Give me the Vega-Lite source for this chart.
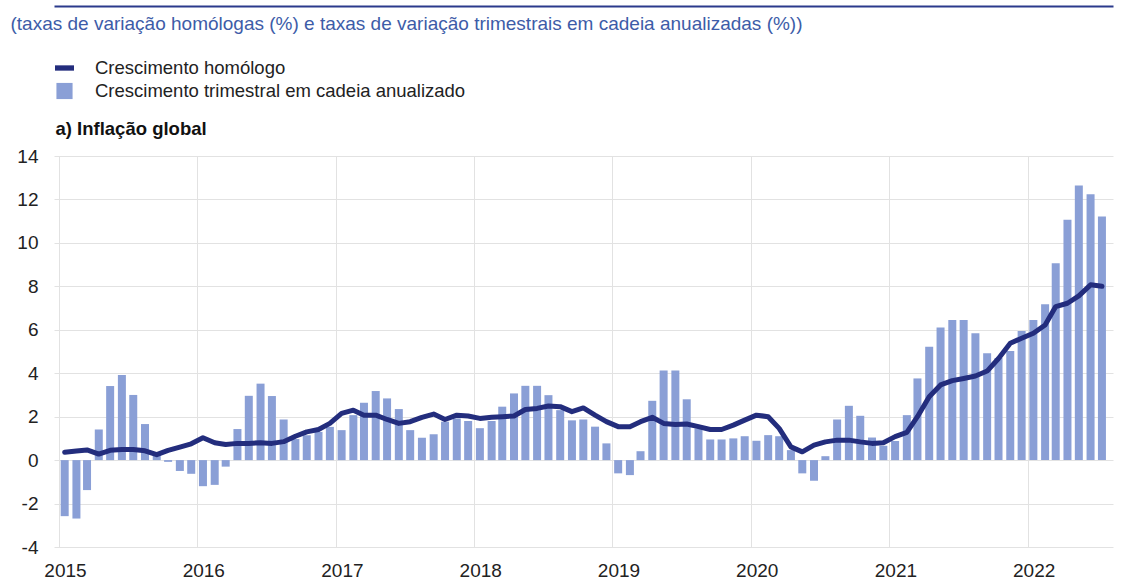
{
  "$schema": "https://vega.github.io/schema/vega-lite/v6.json",
  "width": 1059,
  "height": 391,
  "autosize": {"type": "none"},
  "padding": {"left": 54, "top": 156, "right": 13, "bottom": 32},
  "background": "white",
  "config": {"view": {"stroke": null}, "font": "Liberation Sans"},
  "data": {"values": [
    {"data": "2015-01-16", "trimestral": -2.58, "homologo": 0.36},
    {"data": "2015-02-16", "trimestral": -2.69, "homologo": 0.42},
    {"data": "2015-03-16", "trimestral": -1.38, "homologo": 0.47},
    {"data": "2015-04-16", "trimestral": 1.41, "homologo": 0.28},
    {"data": "2015-05-16", "trimestral": 3.41, "homologo": 0.45},
    {"data": "2015-06-16", "trimestral": 3.92, "homologo": 0.49},
    {"data": "2015-07-16", "trimestral": 3.0, "homologo": 0.49},
    {"data": "2015-08-16", "trimestral": 1.66, "homologo": 0.43},
    {"data": "2015-09-16", "trimestral": 0.28, "homologo": 0.25},
    {"data": "2015-10-16", "trimestral": -0.08, "homologo": 0.45},
    {"data": "2015-11-16", "trimestral": -0.5, "homologo": 0.6},
    {"data": "2015-12-16", "trimestral": -0.63, "homologo": 0.75},
    {"data": "2016-01-16", "trimestral": -1.2, "homologo": 1.03},
    {"data": "2016-02-16", "trimestral": -1.14, "homologo": 0.8},
    {"data": "2016-03-16", "trimestral": -0.3, "homologo": 0.72},
    {"data": "2016-04-16", "trimestral": 1.43, "homologo": 0.77},
    {"data": "2016-05-16", "trimestral": 2.96, "homologo": 0.77},
    {"data": "2016-06-16", "trimestral": 3.52, "homologo": 0.8},
    {"data": "2016-07-16", "trimestral": 2.95, "homologo": 0.77},
    {"data": "2016-08-16", "trimestral": 1.87, "homologo": 0.85},
    {"data": "2016-09-16", "trimestral": 0.97, "homologo": 1.1},
    {"data": "2016-10-16", "trimestral": 1.15, "homologo": 1.3},
    {"data": "2016-11-16", "trimestral": 1.3, "homologo": 1.41},
    {"data": "2016-12-16", "trimestral": 1.53, "homologo": 1.69},
    {"data": "2017-01-16", "trimestral": 1.38, "homologo": 2.15},
    {"data": "2017-02-16", "trimestral": 2.07, "homologo": 2.3},
    {"data": "2017-03-16", "trimestral": 2.64, "homologo": 2.07},
    {"data": "2017-04-16", "trimestral": 3.18, "homologo": 2.07},
    {"data": "2017-05-16", "trimestral": 2.84, "homologo": 1.87},
    {"data": "2017-06-16", "trimestral": 2.35, "homologo": 1.69},
    {"data": "2017-07-16", "trimestral": 1.38, "homologo": 1.77},
    {"data": "2017-08-16", "trimestral": 1.03, "homologo": 1.97},
    {"data": "2017-09-16", "trimestral": 1.19, "homologo": 2.12},
    {"data": "2017-10-16", "trimestral": 1.77, "homologo": 1.87},
    {"data": "2017-11-16", "trimestral": 1.92, "homologo": 2.07},
    {"data": "2017-12-16", "trimestral": 1.8, "homologo": 2.03},
    {"data": "2018-01-16", "trimestral": 1.47, "homologo": 1.92},
    {"data": "2018-02-16", "trimestral": 1.8, "homologo": 1.97},
    {"data": "2018-03-16", "trimestral": 2.46, "homologo": 2.0},
    {"data": "2018-04-16", "trimestral": 3.07, "homologo": 2.03},
    {"data": "2018-05-16", "trimestral": 3.42, "homologo": 2.33},
    {"data": "2018-06-16", "trimestral": 3.42, "homologo": 2.38},
    {"data": "2018-07-16", "trimestral": 2.99, "homologo": 2.49},
    {"data": "2018-08-16", "trimestral": 2.3, "homologo": 2.46},
    {"data": "2018-09-16", "trimestral": 1.83, "homologo": 2.23},
    {"data": "2018-10-16", "trimestral": 1.87, "homologo": 2.4},
    {"data": "2018-11-16", "trimestral": 1.54, "homologo": 2.07},
    {"data": "2018-12-16", "trimestral": 0.77, "homologo": 1.77},
    {"data": "2019-01-16", "trimestral": -0.61, "homologo": 1.54},
    {"data": "2019-02-16", "trimestral": -0.69, "homologo": 1.54},
    {"data": "2019-03-16", "trimestral": 0.41, "homologo": 1.77},
    {"data": "2019-04-16", "trimestral": 2.73, "homologo": 1.97},
    {"data": "2019-05-16", "trimestral": 4.12, "homologo": 1.69},
    {"data": "2019-06-16", "trimestral": 4.12, "homologo": 1.64},
    {"data": "2019-07-16", "trimestral": 2.8, "homologo": 1.66},
    {"data": "2019-08-16", "trimestral": 1.46, "homologo": 1.54},
    {"data": "2019-09-16", "trimestral": 0.95, "homologo": 1.41},
    {"data": "2019-10-16", "trimestral": 0.95, "homologo": 1.41},
    {"data": "2019-11-16", "trimestral": 1.0, "homologo": 1.61},
    {"data": "2019-12-16", "trimestral": 1.1, "homologo": 1.84},
    {"data": "2020-01-16", "trimestral": 0.89, "homologo": 2.07},
    {"data": "2020-02-16", "trimestral": 1.15, "homologo": 2.0},
    {"data": "2020-03-16", "trimestral": 1.1, "homologo": 1.46},
    {"data": "2020-04-16", "trimestral": 0.46, "homologo": 0.61},
    {"data": "2020-05-16", "trimestral": -0.61, "homologo": 0.38},
    {"data": "2020-06-16", "trimestral": -0.95, "homologo": 0.69},
    {"data": "2020-07-16", "trimestral": 0.18, "homologo": 0.84},
    {"data": "2020-08-16", "trimestral": 1.87, "homologo": 0.92},
    {"data": "2020-09-16", "trimestral": 2.5, "homologo": 0.92},
    {"data": "2020-10-16", "trimestral": 2.04, "homologo": 0.84},
    {"data": "2020-11-16", "trimestral": 1.04, "homologo": 0.77},
    {"data": "2020-12-16", "trimestral": 0.66, "homologo": 0.8},
    {"data": "2021-01-16", "trimestral": 0.88, "homologo": 1.08},
    {"data": "2021-02-16", "trimestral": 2.07, "homologo": 1.28},
    {"data": "2021-03-16", "trimestral": 3.76, "homologo": 2.0},
    {"data": "2021-04-16", "trimestral": 5.22, "homologo": 2.92},
    {"data": "2021-05-16", "trimestral": 6.11, "homologo": 3.46},
    {"data": "2021-06-16", "trimestral": 6.45, "homologo": 3.66},
    {"data": "2021-07-16", "trimestral": 6.45, "homologo": 3.76},
    {"data": "2021-08-16", "trimestral": 5.84, "homologo": 3.87},
    {"data": "2021-09-16", "trimestral": 4.92, "homologo": 4.1},
    {"data": "2021-10-16", "trimestral": 4.7, "homologo": 4.68},
    {"data": "2021-11-16", "trimestral": 5.02, "homologo": 5.38},
    {"data": "2021-12-16", "trimestral": 5.94, "homologo": 5.61},
    {"data": "2022-01-16", "trimestral": 6.45, "homologo": 5.84},
    {"data": "2022-02-16", "trimestral": 7.17, "homologo": 6.22},
    {"data": "2022-03-16", "trimestral": 9.06, "homologo": 7.07},
    {"data": "2022-04-16", "trimestral": 11.06, "homologo": 7.22},
    {"data": "2022-05-16", "trimestral": 12.64, "homologo": 7.56},
    {"data": "2022-06-16", "trimestral": 12.24, "homologo": 8.07},
    {"data": "2022-07-16", "trimestral": 11.21, "homologo": 8.0}
  ]},
  "layer": [
    {
      "mark": {"type": "bar", "width": 8},
      "encoding": {
        "x": {
          "field": "data", "type": "temporal",
          "scale": {"type": "utc", "domain": [{"year": 2015, "month": 1, "date": 1, "utc": true}, {"year": 2022, "month": 8, "date": 1, "utc": true}]},
          "axis": {
            "orient": "bottom",
            "values": [
              {"year": 2015, "month": 1, "date": 1, "utc": true},
              {"year": 2016, "month": 1, "date": 1, "utc": true},
              {"year": 2017, "month": 1, "date": 1, "utc": true},
              {"year": 2018, "month": 1, "date": 1, "utc": true},
              {"year": 2019, "month": 1, "date": 1, "utc": true},
              {"year": 2020, "month": 1, "date": 1, "utc": true},
              {"year": 2021, "month": 1, "date": 1, "utc": true},
              {"year": 2022, "month": 1, "date": 1, "utc": true}
            ],
            "format": "%Y",
            "labelOffset": 6,
            "labelFlush": false,
            "labelOverlap": false,
            "labelFontSize": 19,
            "labelColor": "#222222",
            "labelPadding": 14,
            "ticks": false,
            "domain": false,
            "grid": true,
            "gridColor": "#e2e2e2",
            "title": null
          }
        },
        "y": {
          "field": "trimestral", "type": "quantitative",
          "scale": {"domain": [-4, 14], "nice": false, "zero": false},
          "axis": {
            "values": [-4, -2, 0, 2, 4, 6, 8, 10, 12, 14],
            "labelExpr": "toString(datum.value)",
            "grid": true,
            "gridColor": "#e2e2e2",
            "ticks": false,
            "domain": false,
            "labelFontSize": 19,
            "labelPadding": 16,
            "labelColor": "#222222",
            "title": "a) Inflação global",
            "titleAngle": 0,
            "titleX": 1,
            "titleY": -28,
            "titleAlign": "left",
            "titleBaseline": "middle",
            "titleFontSize": 18.5,
            "titleFontWeight": "bold",
            "titleColor": "#111111"
          }
        },
        "color": {
          "datum": "Crescimento trimestral em cadeia anualizado",
          "scale": {"domain": ["Crescimento homólogo", "Crescimento trimestral em cadeia anualizado"], "range": ["#232d7d", "#8a9fd6"]},
          "legend": {
            "orient": "none",
            "legendX": 1,
            "legendY": -97.5,
            "title": null,
            "padding": 0,
            "symbolSize": 361,
            "labelFontSize": 18.5,
            "labelLimit": 0,
            "labelColor": "#222222",
            "labelOffset": 21,
            "rowPadding": 4,
            "encode": {
              "symbols": {
                "update": {
                  "shape": {"signal": "datum.value === 'Crescimento homólogo' ? 'M-1,-0.28H1V0.28H-1Z' : 'M-0.85,-0.85H0.85V0.85H-0.85Z'"},
                  "fill": {"signal": "scale('color', datum.value)"},
                  "fillOpacity": {"value": 1},
                  "opacity": {"value": 1},
                  "strokeWidth": {"value": 0}
                }
              }
            }
          }
        }
      }
    },
    {
      "mark": {"type": "line", "strokeWidth": 5, "strokeJoin": "round", "strokeCap": "round"},
      "encoding": {
        "x": {
          "field": "data", "type": "temporal",
          "axis": {
            "orient": "top",
            "offset": 150,
            "labels": false,
            "ticks": false,
            "grid": false,
            "domain": true,
            "domainColor": "#2b3a8c",
            "domainWidth": 2,
            "title": "(taxas de variação homólogas (%) e taxas de variação trimestrais em cadeia anualizadas (%))",
            "titleX": -44,
            "titleY": 17,
            "titleAngle": 0,
            "titleAlign": "left",
            "titleBaseline": "middle",
            "titleFontSize": 19,
            "titleFontWeight": "normal",
            "titleColor": "#3d5ca8",
            "titlePadding": 0,
            "titleLimit": 0
          }
        },
        "y": {
          "field": "homologo", "type": "quantitative",
          "axis": {
            "values": [-4, -2, 0, 2, 4, 6, 8, 10, 12, 14],
            "labelExpr": "toString(datum.value)",
            "grid": true,
            "gridColor": "#e2e2e2",
            "ticks": false,
            "domain": false,
            "labelFontSize": 19,
            "labelPadding": 16,
            "labelColor": "#222222",
            "title": "a) Inflação global",
            "titleAngle": 0,
            "titleX": 1,
            "titleY": -28,
            "titleAlign": "left",
            "titleBaseline": "middle",
            "titleFontSize": 18.5,
            "titleFontWeight": "bold",
            "titleColor": "#111111"
          }
        },
        "color": {"datum": "Crescimento homólogo"}
      }
    }
  ],
  "resolve": {"axis": {"x": "independent"}}
}
